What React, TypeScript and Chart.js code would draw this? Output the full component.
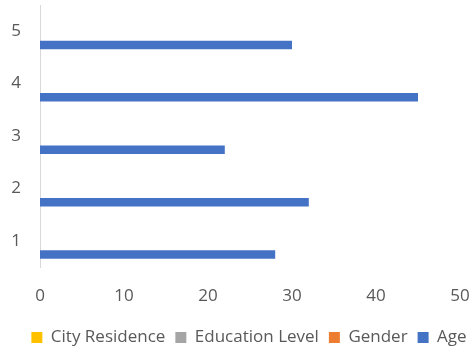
import React, { useEffect, useRef } from "react";
import { Chart, registerables } from "chart.js";

Chart.register(...registerables);

const categories = ["1", "2", "3", "4", "5"];
const cityResidence: (number | null)[] = [null, null, null, null, null];
const educationLevel: (number | null)[] = [null, null, null, null, null];
const gender: (number | null)[] = [null, null, null, null, null];
const age = [28, 32, 22, 45, 30];
const xTicks = [0, 10, 20, 30, 40, 50];

const FONT = "'Open Sans', sans-serif";
const TEXT = "#595959";

const legendShift = {
  id: "legendShift",
  afterLayout(chart: any) {
    if (chart.legend) {
      chart.legend.left += 14;
      chart.legend.right += 14;
    }
  },
};

export default function App() {
  const ref = useRef<HTMLCanvasElement | null>(null);
  useEffect(() => {
    if (!ref.current) return;
    const common = { borderWidth: 0, categoryPercentage: 0.7, barPercentage: 0.93 };
    const chart = new Chart(ref.current, {
      type: "bar",
      data: {
        labels: categories,
        datasets: [
          { label: "City Residence", data: cityResidence, backgroundColor: "#FFC000", ...common },
          { label: "Education Level", data: educationLevel, backgroundColor: "#A5A5A5", ...common },
          { label: "Gender", data: gender, backgroundColor: "#ED7D31", ...common },
          { label: "Age", data: age, backgroundColor: "#4472C4", ...common },
        ],
      },
      plugins: [legendShift],
      options: {
        indexAxis: "y",
        animation: false,
        responsive: false,
        maintainAspectRatio: false,
        layout: { padding: { top: 5, right: 0, left: 0, bottom: -5 } },
        plugins: {
          tooltip: { enabled: false },
          legend: {
            position: "bottom",
            labels: {
              color: TEXT,
              font: { family: FONT, size: 17 },
              boxWidth: 11,
              boxHeight: 11,
              padding: 10,
            },
          },
        },
        scales: {
          x: {
            min: xTicks[0],
            max: xTicks[xTicks.length - 1],
            afterBuildTicks: (s: any) => {
              s.ticks = xTicks.map((v) => ({ value: v }));
            },
            afterFit: (s: any) => {
              s.height = 52;
              s.paddingLeft = 0;
              s.paddingRight = 10;
            },
            grid: { display: false, drawTicks: false },
            border: { display: false },
            ticks: { color: TEXT, font: { family: FONT, size: 17 }, padding: 19 },
          },
          y: {
            reverse: true,
            grid: { display: false, drawTicks: false },
            border: { display: true, color: "#D9D9D9", width: 1 },
            afterFit: (s: any) => {
              s.width = 40;
              s.paddingTop = 0;
              s.paddingBottom = 0;
            },
            ticks: { color: TEXT, font: { family: FONT, size: 17 }, padding: 19 },
          },
        },
      },
    });
    return () => chart.destroy();
  }, []);
  return (
    <div style={{ position: "fixed", left: 0, top: 0, width: 470, height: 351, background: "#fff" }}>
      <canvas ref={ref} width={470} height={351} style={{ display: "block" }} />
    </div>
  );
}
